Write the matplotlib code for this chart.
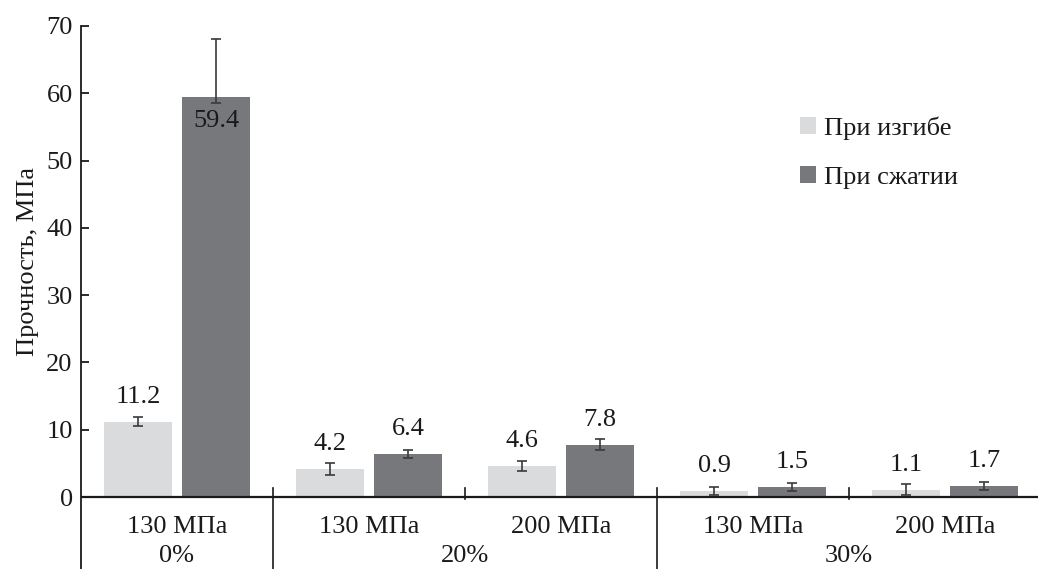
import matplotlib
matplotlib.use("Agg")
import matplotlib.pyplot as plt
import numpy as np

# Data
pressures = ["130 МПа", "130 МПа", "200 МПа", "130 МПа", "200 МПа"]
groups = ["0%", "20%", "30%"]
group_sizes = [1, 2, 2]
bending = [11.2, 4.2, 4.6, 0.9, 1.1]
compression = [59.4, 6.4, 7.8, 1.5, 1.7]
bending_err_low = [0.7, 0.9, 0.8, 0.6, 0.8]
bending_err_high = [0.7, 0.9, 0.8, 0.6, 0.8]
compression_err_low = [0.9, 0.6, 0.8, 0.6, 0.6]
compression_err_high = [8.7, 0.6, 0.8, 0.6, 0.5]
series_names = ["При изгибе", "При сжатии"]
y_ticks = [0, 10, 20, 30, 40, 50, 60, 70]

plt.rcParams["font.family"] = ["Liberation Serif", "DejaVu Serif"]
FS = 19
TXT = "#1a1a1a"

light = "#dadbdd"
dark = "#77787c"
ecol = "#3a3a3a"

fig = plt.figure(figsize=(10.38, 5.69), dpi=100)
W, H = 1038, 569
left_px, top_px = 81, 26
ax = fig.add_axes([left_px / W, 0, 1 - left_px / W, (H - top_px) / H])

ymin, ymax = -10.7, 70
ax.set_ylim(ymin, ymax)
cat_px = 192
ax.set_xlim(-0.5, -0.5 + (W - left_px) / cat_px)

x = np.arange(len(pressures))
off, bw = 0.203, 0.35
ax.bar(x - off, bending, bw, color=light, label=series_names[0], zorder=2)
ax.bar(x + off, compression, bw, color=dark, label=series_names[1], zorder=2)
ax.errorbar(x - off, bending, yerr=[bending_err_low, bending_err_high], fmt="none",
            ecolor=ecol, elinewidth=1.2, capsize=3.5, capthick=1.2, zorder=3)
ax.errorbar(x + off, compression, yerr=[compression_err_low, compression_err_high], fmt="none",
            ecolor=ecol, elinewidth=1.2, capsize=3.5, capthick=1.2, zorder=3)

# Value labels
for xi, v in zip(x - off, bending):
    ax.annotate(f"{v:.1f}", (xi, v), xytext=(0, 18), textcoords="offset points",
                ha="center", va="center", fontsize=FS, color=TXT)
for xi, v in zip(x + off, compression):
    dy = -17 if v > 30 else 18
    ax.annotate(f"{v:.1f}", (xi, v), xytext=(0, dy), textcoords="offset points",
                ha="center", va="center", fontsize=FS, color=TXT)

# Axes styling
for s in ["top", "right", "bottom"]:
    ax.spines[s].set_visible(False)
ax.spines["left"].set_color(TXT)
ax.spines["left"].set_linewidth(1.3)
ax.axhline(0, color=TXT, lw=1.6, zorder=4)
ax.set_yticks(y_ticks)
ax.set_yticklabels([str(t) for t in y_ticks], fontsize=FS, color=TXT)
ax.tick_params(axis="y", direction="in", length=6, width=1.3, pad=6, color=TXT)
ax.set_xticks([])

ax.text(-0.5 - 53 / cat_px, 35, "Прочность, МПа", rotation=90, ha="center", va="center",
        fontsize=FS, color=TXT)

# Category and group labels
for xi, lab in zip(x, pressures):
    ax.text(xi, -4.4, lab, ha="center", va="center", fontsize=FS, color=TXT)
start = 0
bounds = []
for g, n in zip(groups, group_sizes):
    center = start + (n - 1) / 2
    ax.text(center, -8.8, g, ha="center", va="center", fontsize=FS, color=TXT)
    start += n
    bounds.append(start - 0.5)

# Separators between categories and groups
top_tick = 1.3
for b in np.arange(0.5, len(pressures) - 0.5, 1.0):
    if any(abs(b - gb) < 1e-9 for gb in bounds):
        ax.plot([b, b], [ymin, top_tick], color=TXT, lw=1.2, clip_on=False, zorder=4)
    else:
        ax.plot([b, b], [-0.3, top_tick], color=TXT, lw=1.2, clip_on=False, zorder=4)

leg = ax.legend(loc="upper left",
                bbox_to_anchor=((800 - left_px) / (W - left_px), 1 - (116 - top_px) / (H - top_px)),
                bbox_transform=ax.transAxes, frameon=False, fontsize=FS,
                handlelength=0.6, handleheight=0.6, handletextpad=0.3, labelspacing=1.0,
                borderaxespad=0, borderpad=0)
for t in leg.get_texts():
    t.set_color(TXT)

fig.savefig("out.png", dpi=100)
